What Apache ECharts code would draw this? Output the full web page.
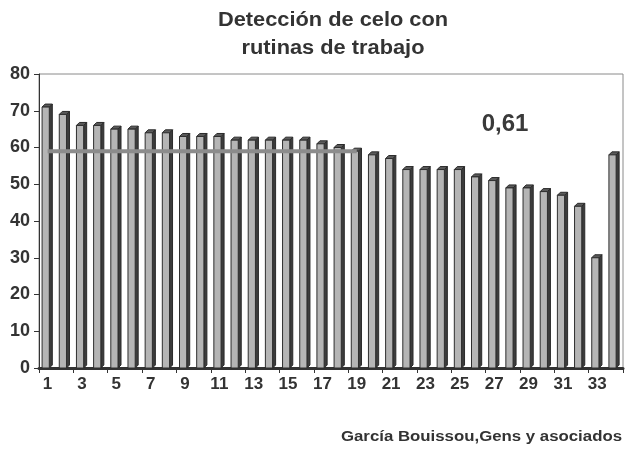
<!DOCTYPE html>
<html>
<head>
<meta charset="utf-8">
<script src="https://cdn.jsdelivr.net/npm/echarts@6/dist/echarts.min.js"></script>
<style>
  html, body { margin: 0; padding: 0; background: #fff; }
  #chart { width: 626px; height: 449px; }
</style>
</head>
<body>
<div id="chart"></div>
<script>
// Rutinas de trabajo numeradas 1..34
const categories = Array.from({ length: 34 }, (_, i) => String(i + 1));
// Porcentaje de detección de celo por rutina
const values = [71, 69, 66, 66, 65, 65, 64, 64, 63, 63, 63, 62, 62, 62, 62, 62, 61, 60, 59,
                58, 57, 54, 54, 54, 54, 52, 51, 49, 49, 48, 47, 44, 30, 58];
// Promedio de referencia marcado sobre las primeras 19 rutinas
const averageValue = 59;
const averageSpan = 19;
const averageLine = categories.map((c, i) => (i < averageSpan ? averageValue : null));
const yTicks = { min: 0, max: 80, interval: 10 };

const FONT = 'Liberation Sans, Arial, sans-serif';
const chart = echarts.init(document.getElementById('chart'), null, { renderer: 'canvas' });

function renderBar3D(params, api) {
  const idx = api.value(0);
  const top = api.coord([idx, api.value(1)]);
  const base = api.coord([idx, 0]);
  const bw = api.size([1, 0])[0];
  const fw = bw * 0.42;
  const d = 3;
  const left = top[0] - bw * 0.32;
  const right = left + fw;
  const y0 = top[1];
  const y1 = base[1];
  return {
    type: 'group',
    children: [
      {
        type: 'polygon',
        shape: { points: [[right, y0], [right + d, y0 - d], [right + d, y1 - d], [right, y1]] },
        style: { fill: '#3c3c3c', stroke: '#2a2a2a', lineWidth: 1 }
      },
      {
        type: 'polygon',
        shape: { points: [[left, y0], [left + d, y0 - d], [right + d, y0 - d], [right, y0]] },
        style: { fill: '#5a5a5a', stroke: '#2a2a2a', lineWidth: 1 }
      },
      {
        type: 'rect',
        shape: { x: left, y: y0, width: fw, height: y1 - y0 },
        style: { fill: '#b5b5b5', stroke: '#2e2e2e', lineWidth: 1 }
      }
    ]
  };
}

chart.setOption({
  animation: false,
  backgroundColor: '#ffffff',
  graphic: [
    {
      type: 'text',
      x: 333, y: 20,
      scaleX: 1.09,
      style: {
        text: 'Detección de celo con',
        align: 'center', verticalAlign: 'middle',
        fontFamily: FONT, fontWeight: 'bold', fontSize: 20, fill: '#333333'
      }
    },
    {
      type: 'text',
      x: 333, y: 48,
      scaleX: 1.09,
      style: {
        text: 'rutinas de trabajo',
        align: 'center', verticalAlign: 'middle',
        fontFamily: FONT, fontWeight: 'bold', fontSize: 20, fill: '#333333'
      }
    },
    {
      type: 'text',
      x: 505, y: 124,
      style: {
        text: '0,61',
        align: 'center', verticalAlign: 'middle',
        fontFamily: FONT, fontWeight: 'bold', fontSize: 24, fill: '#3a3a3a'
      }
    },
    {
      type: 'text',
      x: 622, y: 437,
      scaleX: 1.2,
      style: {
        text: 'García Bouissou,Gens y asociados',
        align: 'right', verticalAlign: 'middle',
        fontFamily: FONT, fontWeight: 'bold', fontSize: 14, fill: '#333333'
      }
    }
  ],
  grid: {
    left: 39, right: 3, top: 74, bottom: 81,
    show: true,
    borderColor: '#8a8a8a',
    borderWidth: 1
  },
  xAxis: {
    type: 'category',
    data: categories,
    boundaryGap: true,
    axisLine: { show: true, lineStyle: { color: '#333333', width: 3 } },
    axisTick: { show: true, alignWithLabel: false, length: 5, lineStyle: { color: '#333333' } },
    axisLabel: {
      interval: 1,
      margin: 8,
      fontFamily: FONT,
      fontWeight: 'bold',
      fontSize: 17,
      color: '#333333'
    }
  },
  yAxis: {
    type: 'value',
    min: yTicks.min,
    max: yTicks.max,
    interval: yTicks.interval,
    axisLine: { show: true, lineStyle: { color: '#333333', width: 1 } },
    axisTick: { show: true, length: 5, lineStyle: { color: '#333333' } },
    splitLine: { show: false },
    axisLabel: {
      margin: 9,
      fontFamily: FONT,
      fontWeight: 'bold',
      fontSize: 18,
      color: '#333333'
    }
  },
  series: [
    {
      type: 'custom',
      renderItem: renderBar3D,
      encode: { x: 0, y: 1 },
      data: values.map((v, i) => [i, v]),
      z: 2
    },
    {
      type: 'line',
      data: averageLine,
      symbol: 'none',
      connectNulls: false,
      lineStyle: { color: '#8c8c8c', width: 4 },
      z: 3
    }
  ]
});
</script>
</body>
</html>
